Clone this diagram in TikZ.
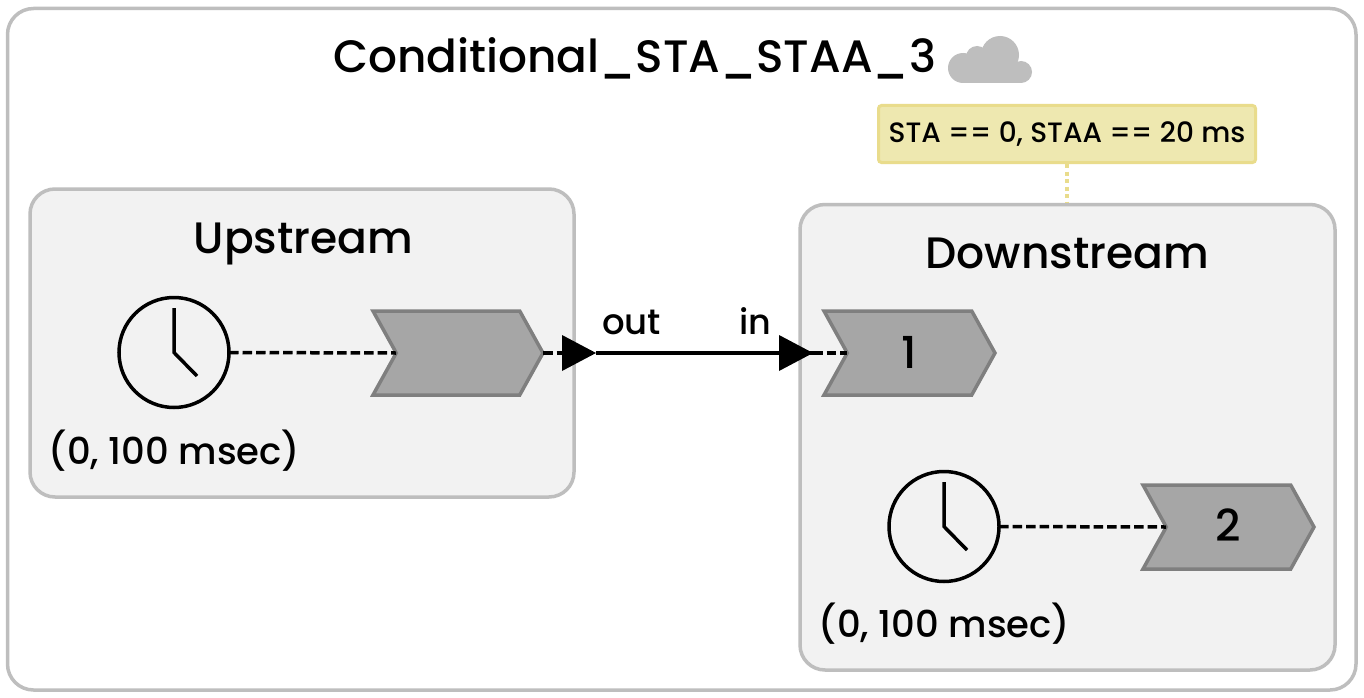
\documentclass[tikz,border=0pt]{standalone}
\usepackage{fontspec}
\setmainfont{Poppins Medium}
\usetikzlibrary{shapes.symbols}
\definecolor{gridgray}{HTML}{BEBEBE}
\definecolor{panelfill}{HTML}{F2F2F2}
\definecolor{chevfill}{HTML}{A6A6A6}
\definecolor{chevline}{HTML}{7F7F7F}
\definecolor{notefill}{HTML}{EEE8B0}
\definecolor{noteline}{HTML}{E9DC8C}
\newcommand{\fs}[1]{\fontsize{#1}{#1}\selectfont}
\tikzset{
  x=1pt,y=-1pt,
  panel/.style={draw=gridgray,line width=3.5pt,fill=panelfill,rounded corners=25pt},
  chevbox/.style={shape=signal,signal to=east,signal from=west,signal pointer angle=122,
    draw=chevline,fill=chevfill,line width=3.5pt,inner sep=0pt,outer sep=0pt,minimum height=84pt,font=\fs{44}},
  clockface/.style={circle,draw=black,line width=3.5pt,minimum size=110pt,inner sep=0pt,outer sep=0pt},
  hand/.style={line width=3.5pt,line cap=butt},
  dashconn/.style={line width=3.5pt,dash pattern=on 9.5pt off 4pt},
  solidconn/.style={line width=3.5pt},
  lbl/.style={inner sep=0pt,anchor=base},
  note/.style={draw=noteline,fill=notefill,line width=3pt,rounded corners=3pt,minimum width=377pt,minimum height=57pt,inner sep=0pt,font=\fs{28}},
}
\begin{document}
\begin{tikzpicture}
\useasboundingbox (0,0) rectangle (1364,698);
\draw[draw=gridgray,line width=3.5pt,fill=white,rounded corners=26pt] (7.5,8.5) rectangle (1356,690);
\node[lbl,font=\fs{45.4}] (title) at (634.5,73) {Conditional\_STA\_STAA\_3};
% cloud
\fill[gridgray] (963,68) circle[radius=15];
\fill[gridgray] (977,57) circle[radius=11];
\fill[gridgray] (1000,55) circle[radius=19];
\fill[gridgray] (1021,72) circle[radius=11];
\fill[gridgray] (963,63) rectangle (1021,83);
% panels
\draw[panel] (30,189) rectangle (574,497);
\draw[panel] (800,204.5) rectangle (1335,670);
\node[lbl,font=\fs{44}] (upt) at (303.5,253) {Upstream};
\node[lbl,font=\fs{44}] (downt) at (1067.5,268.5) {Downstream};
% note
\node[note] (nt) at (1067,134) {STA == 0, STAA == 20 ms};
\coordinate (dtop) at (1067,203);
\draw[noteline,line width=4pt,dash pattern=on 4pt off 3.5pt] (nt.south) -- (dtop);
% clocks
\node[clockface] (c1) at (174,352.5) {};
\node[clockface] (c2) at (944,526.5) {};
\draw[hand] (174,308) -- (c1.center) -- (197,376);
\draw[hand] (944,482) -- (c2.center) -- (967,550);
\node[lbl,font=\fs{37}] (c1t) at (174.5,464) {(0, 100 msec)};
\node[lbl,font=\fs{37}] (c2t) at (944.5,637) {(0, 100 msec)};
% chevrons
\node[chevbox,minimum width=170pt] (up) at (458,353) {};
\node[chevbox,minimum width=171pt] (d1) at (909.5,353) {\raisebox{2pt}{1}};
\node[chevbox,minimum width=171pt] (d2) at (1228.5,527) {\raisebox{3pt}{2}};
% connectors
\coordinate (upn) at (396,353);
\coordinate (d1n) at (847,353);
\coordinate (d2n) at (1166,527);
\coordinate (a1) at (596,353);
\coordinate (a2) at (813,353);
\draw[dashconn] (c1.east) -- (upn);
\draw[dashconn] (c2.east) -- (d2n);
\draw[dashconn] (up.east) -- (a1);
\draw[dashconn] (a2) -- (d1n);
\draw[solidconn] (a1) -- (a2);
\fill (a1) -- ++(-34,-18) -- ++(0,36) -- cycle;
\fill (a2) -- ++(-34,-18) -- ++(0,36) -- cycle;
\node[lbl,font=\fs{35.5}] (outl) at (631.5,334) {out};
\node[lbl,font=\fs{35}] (inl) at (755,334) {in};
\end{tikzpicture}
\end{document}
